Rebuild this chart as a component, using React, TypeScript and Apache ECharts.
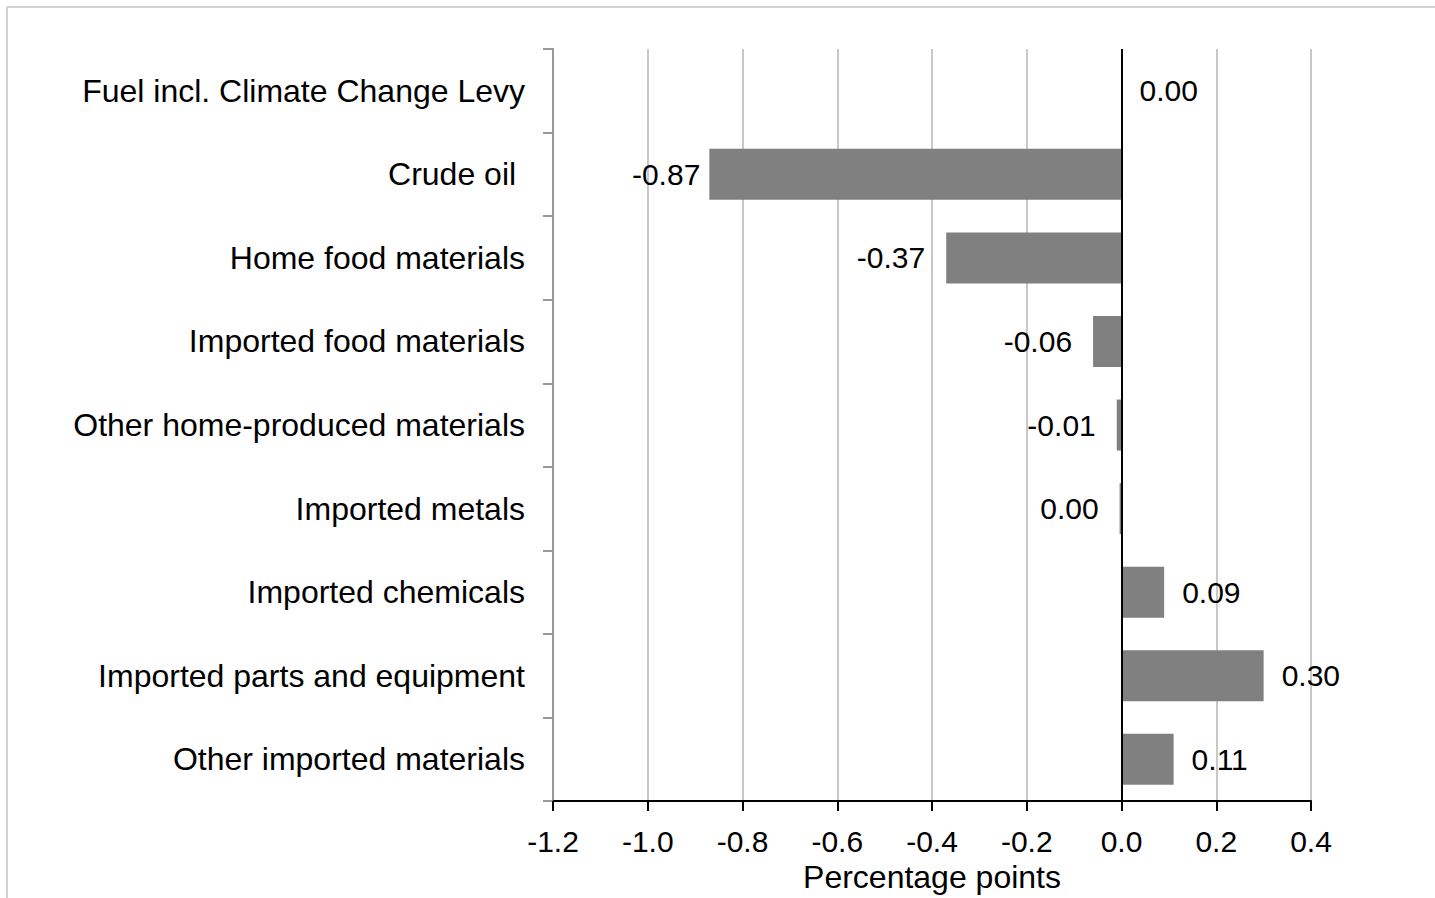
import React, { useEffect, useRef } from "react";
import * as echarts from "echarts";

const categories = [
  "Fuel incl. Climate Change Levy",
  "Crude oil ",
  "Home food materials",
  "Imported food materials",
  "Other home-produced materials",
  "Imported metals",
  "Imported chemicals",
  "Imported parts and equipment",
  "Other imported materials",
];

const values = [0.0, -0.87, -0.37, -0.06, -0.01, -0.004, 0.09, 0.3, 0.11];

const axisName = "Percentage points";
const FONT = "'Liberation Sans', Arial, sans-serif";

export default function App() {
  const ref = useRef<HTMLDivElement>(null);

  useEffect(() => {
    if (!ref.current) return;
    const chart = echarts.init(ref.current, undefined, { renderer: "svg" });

    const data = values.map((v) => ({
      value: v,
      label: {
        position: v < 0 ? "left" : "right",
        distance: v <= -0.8 ? 9 : v < 0 ? 21 : 18,
      },
    }));

    chart.setOption({
      animation: false,
      backgroundColor: "#ffffff",
      textStyle: { fontFamily: FONT },
      graphic: [
        {
          type: "line",
          shape: { x1: 7, y1: 7, x2: 1435, y2: 7 },
          style: { stroke: "#d0d0d0", lineWidth: 2 },
        },
        {
          type: "line",
          shape: { x1: 7, y1: 7, x2: 7, y2: 898 },
          style: { stroke: "#d0d0d0", lineWidth: 2 },
        },
      ],
      grid: { left: 553, right: 124, top: 49, bottom: 90, containLabel: false },
      xAxis: {
        type: "value",
        min: -1.2,
        max: 0.4,
        interval: 0.2,
        name: axisName,
        nameLocation: "middle",
        nameGap: 55,
        nameTextStyle: { fontSize: 32, color: "#000", fontFamily: FONT },
        axisLine: { show: true, lineStyle: { color: "#000", width: 2 } },
        axisTick: { show: true, length: 10, lineStyle: { color: "#000", width: 2 } },
        axisLabel: {
          fontSize: 30,
          color: "#000",
          margin: 25,
          fontFamily: FONT,
          formatter: (v: number) => (Math.abs(v) < 1e-9 ? "0.0" : v.toFixed(1)),
        },
        splitLine: { show: true, lineStyle: { color: "#c8c8c8", width: 2 } },
      },
      yAxis: {
        type: "category",
        inverse: true,
        data: categories,
        axisLine: { show: true, onZero: false, lineStyle: { color: "#999", width: 2 } },
        axisTick: { show: true, length: 10, lineStyle: { color: "#999", width: 2 } },
        axisLabel: { fontSize: 32, color: "#000", margin: 28, fontFamily: FONT },
        splitLine: { show: false },
      },
      series: [
        {
          type: "bar",
          data,
          barWidth: 51,
          itemStyle: { color: "#808080" },
          label: {
            show: true,
            fontSize: 30,
            color: "#000",
            fontFamily: FONT,
            formatter: (p: any) =>
              Math.abs(p.value) < 0.005 ? "0.00" : Number(p.value).toFixed(2),
          },
          markLine: {
            silent: true,
            symbol: "none",
            label: { show: false },
            lineStyle: { color: "#000", width: 2, type: "solid" },
            data: [{ xAxis: 0 }],
          },
        },
      ],
    });

    return () => chart.dispose();
  }, []);

  return (
    <div
      ref={ref}
      style={{ position: "fixed", left: 0, top: 0, width: 1435, height: 898 }}
    />
  );
}
